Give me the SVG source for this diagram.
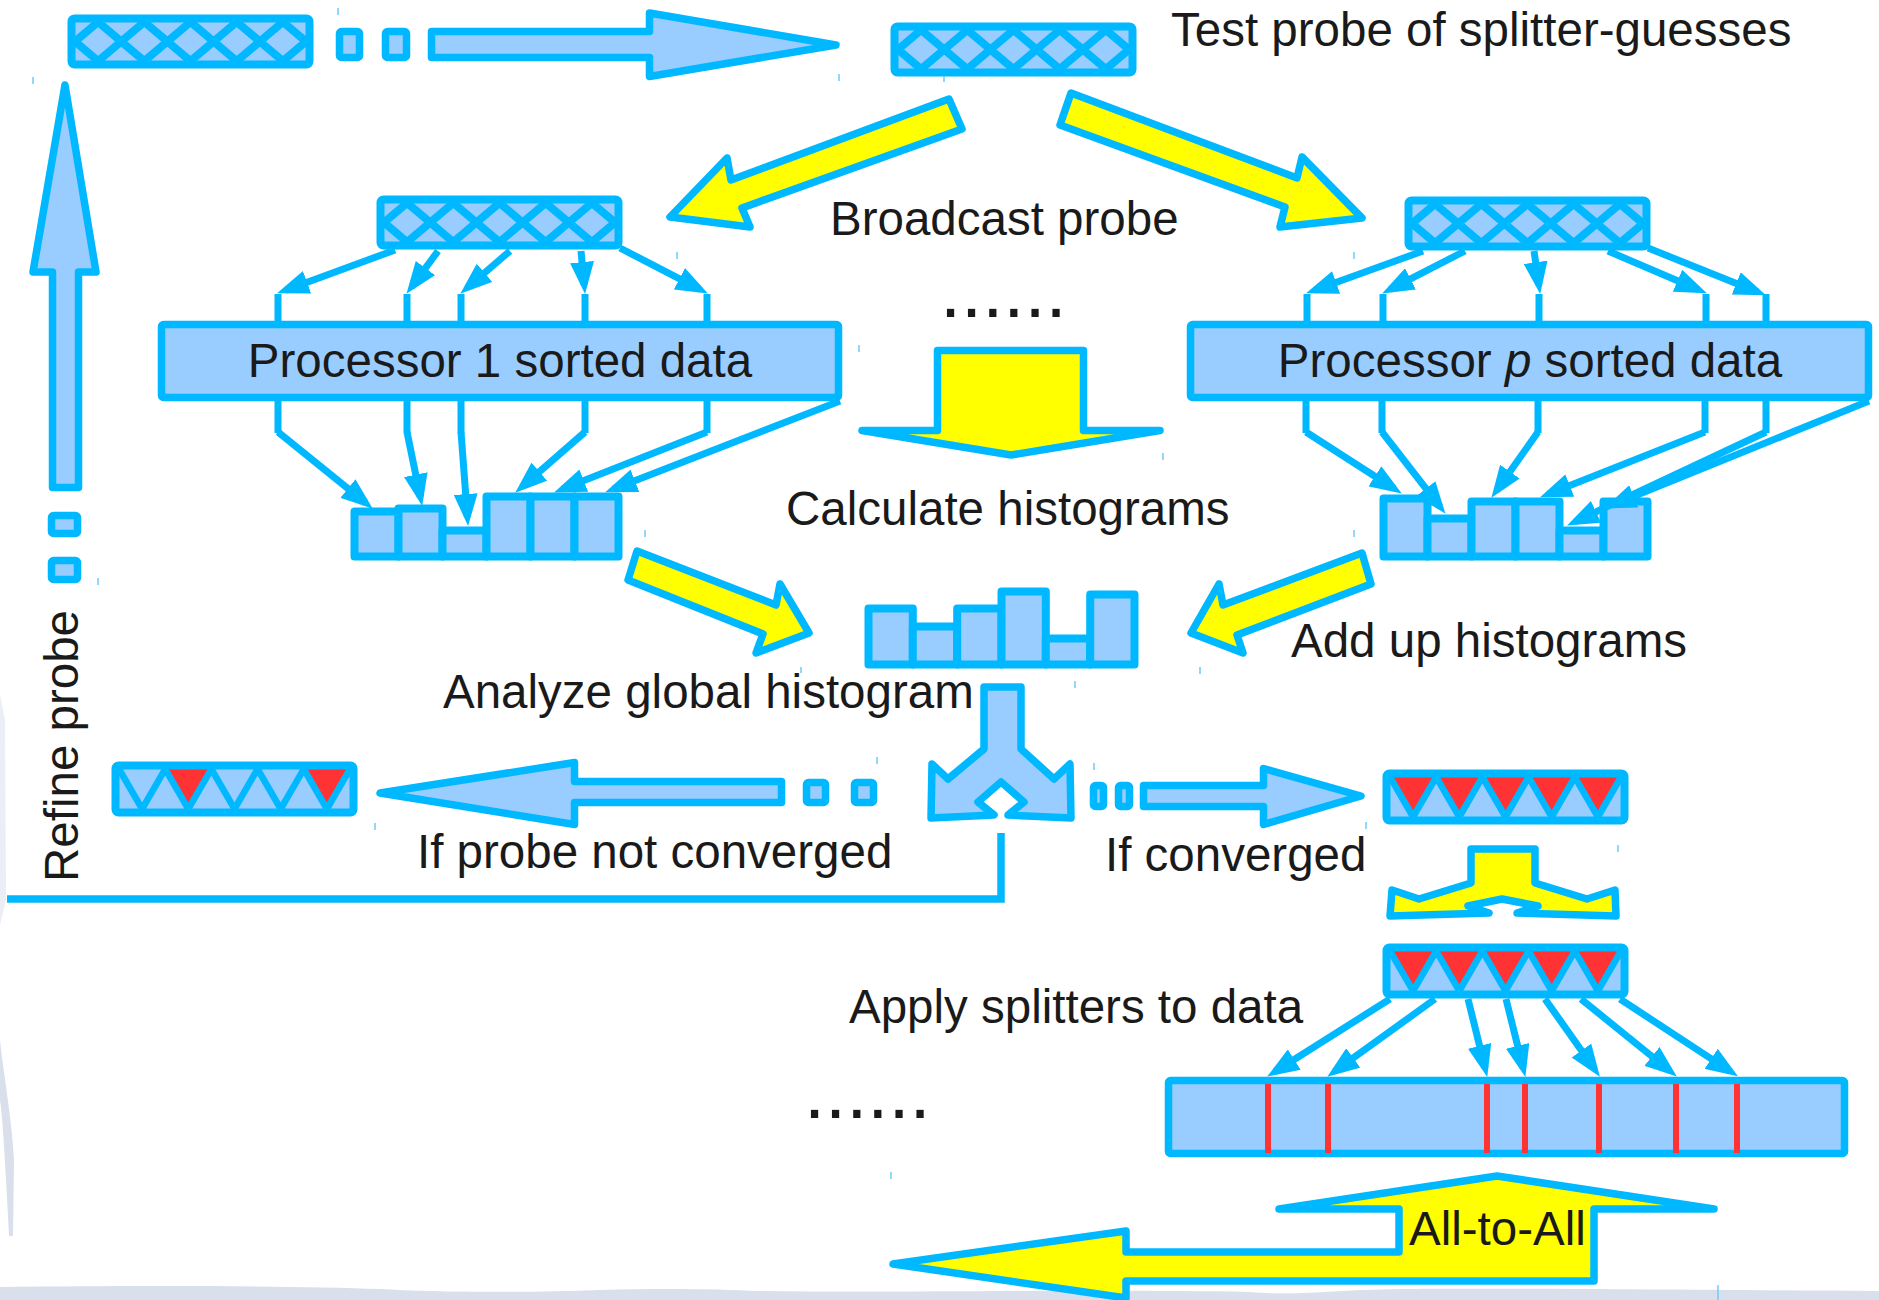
<svg xmlns="http://www.w3.org/2000/svg" width="1879" height="1300" viewBox="0 0 1879 1300">
<style>
  .blk{fill:#99CCFF;stroke:#00B8FF;stroke-width:7.5;stroke-linejoin:round}
  .yel{fill:#FFFF00;stroke:#00B8FF;stroke-width:7.5;stroke-linejoin:round}
  .ln{fill:none;stroke:#00B8FF;stroke-width:7}
  .arr{marker-end:url(#ah)}
  .bar{fill:#99CCFF;stroke:#00B8FF;stroke-width:8;stroke-linejoin:round}
  .txt{font-family:"Liberation Sans",Arial,Helvetica,sans-serif;font-size:47.5px;fill:#1A1A1A}
  .dots{font-family:"Liberation Sans",Arial,Helvetica,sans-serif;font-size:76px;fill:#1A1A1A}
  .split{stroke:#FF3333;stroke-width:6}
  .tick{stroke:#6CCBFF;stroke-width:1.5}
  .haze{fill:#D9E0EC}
</style>
<defs>
  <marker id="ah" markerUnits="userSpaceOnUse" viewBox="0 0 32 24" markerWidth="32" markerHeight="24" refX="23" refY="12" orient="auto">
    <path d="M0,0 L32,12 L0,24 Z" fill="#00B8FF"/>
  </marker>
  <!-- probe of splitter guesses: row of five diamonds -->
  <g id="probeX">
    <rect x="3.5" y="3.5" width="238" height="46" rx="3" fill="#99CCFF"/>
    <path d="M7,26.5 L30.1,7 L53.2,26.5 L30.1,46 Z M53.2,26.5 L76.3,7 L99.4,26.5 L76.3,46 Z M99.4,26.5 L122.5,7 L145.6,26.5 L122.5,46 Z M145.6,26.5 L168.7,7 L191.8,26.5 L168.7,46 Z M191.8,26.5 L214.9,7 L238,26.5 L214.9,46 Z" fill="none" stroke="#00B8FF" stroke-width="8"/>
    <rect x="3.5" y="3.5" width="238" height="46" rx="3" fill="none" stroke="#00B8FF" stroke-width="8"/>
  </g>
  <!-- splitter probe: zigzag of five V cells -->
  <rect id="pvFill" x="3.5" y="3.5" width="238" height="47" rx="3" fill="#99CCFF"/>
  <polygon id="redV" points="7,7 30.1,47 53.2,7" fill="#FF3333"/>
  <g id="pvLines">
    <path d="M7,7 L30.1,47 L53.2,7 L76.3,47 L99.4,7 L122.5,47 L145.6,7 L168.7,47 L191.8,7 L214.9,47 L238,7" fill="none" stroke="#00B8FF" stroke-width="6.5"/>
    <rect x="3.5" y="3.5" width="238" height="47" rx="3" fill="none" stroke="#00B8FF" stroke-width="8"/>
  </g>
  <g id="probeVall">
    <use href="#pvFill"/>
    <use href="#redV"/>
    <use href="#redV" x="46.2"/>
    <use href="#redV" x="92.4"/>
    <use href="#redV" x="138.6"/>
    <use href="#redV" x="184.8"/>
    <use href="#pvLines"/>
  </g>
  <g id="probeVpart">
    <use href="#pvFill"/>
    <use href="#redV" x="46.2"/>
    <use href="#redV" x="184.8"/>
    <use href="#pvLines"/>
  </g>
</defs>

<rect width="1879" height="1300" fill="#FFFFFF"/>

<!-- scanner haze along the edges -->
<g id="haze">
  <path class="haze" d="M0,1287 C150,1285 300,1286 380,1289 C430,1292 520,1293 600,1290 C660,1288 720,1289 760,1291 C900,1293 1100,1289 1250,1292 C1300,1296 1330,1290 1400,1289 C1500,1288 1700,1290 1879,1291 L1879,1300 L0,1300 Z"/>
  <path class="haze" d="M0,1040 C3,1070 12,1120 14,1160 L13,1236 L9,1236 C6,1180 3,1120 0,1100 Z"/>
  <path d="M0,695 L5,720 L6,900 L0,925 Z" fill="#EBEEF4"/>
</g>

<!-- nodes -->
<use id="probe-initial" href="#probeX" x="68" y="15"/>
<use id="probe-test" href="#probeX" x="891" y="23"/>
<use id="probe-proc1" href="#probeX" x="377" y="196"/>
<use id="probe-procp" href="#probeX" x="1405" y="197"/>

<g id="proc1">
  <rect class="blk" x="161.5" y="324.5" width="677" height="73" rx="2"/>
  <text class="txt" x="500" y="377" text-anchor="middle">Processor 1 sorted data</text>
</g>
<g id="procp">
  <rect class="blk" x="1190.5" y="324.5" width="678" height="73" rx="2"/>
  <text class="txt" x="1530" y="377" text-anchor="middle">Processor <tspan font-style="italic">p</tspan> sorted data</text>
</g>

<g id="hist1">
  <rect class="bar" x="354.5" y="511.5" width="44" height="45"/>
  <rect class="bar" x="398.5" y="508.5" width="44" height="48"/>
  <rect class="bar" x="442.5" y="530.5" width="44" height="26"/>
  <rect class="bar" x="486.5" y="496.5" width="44" height="60"/>
  <rect class="bar" x="530.5" y="496.5" width="44" height="60"/>
  <rect class="bar" x="574.5" y="496.5" width="44" height="60"/>
</g>
<g id="histp">
  <rect class="bar" x="1383.5" y="498.5" width="44" height="58"/>
  <rect class="bar" x="1427.5" y="518.5" width="44" height="38"/>
  <rect class="bar" x="1471.5" y="501.5" width="44" height="55"/>
  <rect class="bar" x="1515.5" y="501.5" width="44" height="55"/>
  <rect class="bar" x="1559.5" y="530.5" width="44" height="26"/>
  <rect class="bar" x="1603.5" y="501.5" width="44" height="55"/>
</g>
<g id="hist-global">
  <rect class="bar" x="868.5" y="608.5" width="44.3" height="56"/>
  <rect class="bar" x="912.8" y="626.5" width="44.4" height="38"/>
  <rect class="bar" x="957.2" y="608.5" width="44.3" height="56"/>
  <rect class="bar" x="1001.5" y="591.5" width="44.3" height="73"/>
  <rect class="bar" x="1045.8" y="638.5" width="44.4" height="26"/>
  <rect class="bar" x="1090.2" y="594.5" width="44.3" height="70"/>
</g>

<use id="probe-refined" href="#probeVpart" x="112" y="762"/>
<use id="probe-converged" href="#probeVall" x="1383" y="770"/>
<use id="probe-apply" href="#probeVall" x="1383" y="944"/>

<g id="data">
  <rect class="blk" x="1168.5" y="1080.5" width="676" height="73" rx="2"/>
  <g class="split">
    <line x1="1268" y1="1084" x2="1268" y2="1153"/>
    <line x1="1328" y1="1084" x2="1328" y2="1153"/>
    <line x1="1487" y1="1084" x2="1487" y2="1153"/>
    <line x1="1525" y1="1084" x2="1525" y2="1153"/>
    <line x1="1599" y1="1084" x2="1599" y2="1153"/>
    <line x1="1676" y1="1084" x2="1676" y2="1153"/>
    <line x1="1737" y1="1084" x2="1737" y2="1153"/>
  </g>
</g>

<!-- connectors -->
<g id="connectors">
  <!-- probe travels to the test position -->
  <rect class="blk" x="339.5" y="31.5" width="20" height="26" rx="2"/>
  <rect class="blk" x="385.5" y="31.5" width="21" height="26" rx="2"/>
  <polygon class="blk" points="431.5,31.5 649.5,31.5 649.5,13 836,45 649.5,76.5 649.5,57.5 431.5,57.5"/>

  <!-- broadcast -->
  <polygon class="yel" points="949,99 731,180 727,158 670,217 750,227 742,208 962,129"/>
  <polygon class="yel" points="1071,93 1297,178 1302,157 1362,218 1280,227 1285,207 1060,125"/>

  <!-- probe to processor 1 -->
  <g class="ln">
    <line class="arr" x1="395" y1="250" x2="285.5" y2="290.2"/>
    <line class="arr" x1="438" y1="251" x2="411.8" y2="286.6"/>
    <line class="arr" x1="510" y1="251" x2="467.1" y2="287.8"/>
    <line class="arr" x1="581" y1="251" x2="584.2" y2="285"/>
    <line class="arr" x1="620" y1="248" x2="699.9" y2="289.3"/>
    <path d="M278,294 V322 M407,294 V322 M461,294 V322 M585,294 V322 M707,294 V322"/>
    <path d="M278,400 V433 M407,400 V433 M461,400 V433 M585,400 V433 M707,400 V433"/>
    <line class="arr" x1="278" y1="432" x2="365.8" y2="503"/>
    <line class="arr" x1="407" y1="432" x2="420.4" y2="497.2"/>
    <line class="arr" x1="461" y1="432" x2="467.4" y2="517"/>
    <line class="arr" x1="585" y1="432" x2="522" y2="486.8"/>
    <line class="arr" x1="707" y1="432" x2="562.4" y2="489.1"/>
    <line class="arr" x1="840" y1="401" x2="613.5" y2="489.1"/>
  </g>

  <!-- probe to processor p -->
  <g class="ln">
    <line class="arr" x1="1423" y1="251" x2="1314.5" y2="290.3"/>
    <line class="arr" x1="1465" y1="251" x2="1390.1" y2="289.4"/>
    <line class="arr" x1="1534" y1="251" x2="1538.9" y2="285.1"/>
    <line class="arr" x1="1608" y1="251" x2="1698.6" y2="289.8"/>
    <line class="arr" x1="1648" y1="248" x2="1757.6" y2="292"/>
    <path d="M1307,294 V322 M1383,294 V322 M1539,294 V322 M1706,294 V322 M1766,294 V322"/>
    <path d="M1306,400 V433 M1382,400 V433 M1538,400 V433 M1705,400 V433 M1766,400 V433"/>
    <line class="arr" x1="1306" y1="432" x2="1394.2" y2="488.7"/>
    <line class="arr" x1="1382" y1="432" x2="1440" y2="506.7"/>
    <line class="arr" x1="1538" y1="432" x2="1496.6" y2="490.4"/>
    <line class="arr" x1="1705" y1="432" x2="1548.4" y2="494"/>
    <line class="arr" x1="1766" y1="432" x2="1575.2" y2="521.6"/>
    <line class="arr" x1="1869" y1="401" x2="1612.4" y2="505"/>
  </g>

  <!-- calculate histograms -->
  <polygon class="yel" points="937.5,350.5 1083.5,350.5 1083.5,430.5 1160,430.5 1011,455 862,430.5 937.5,430.5"/>

  <!-- add up histograms -->
  <polygon class="yel" points="637,551 776,605 780,584 809,633 756,653 763,634 628,580"/>
  <polygon class="yel" points="1362,553 1223,605 1219,584 1191,633 1243,653 1237,635 1371,584"/>

  <!-- decision fork -->
  <polygon class="blk" points="984,687 1021,687 1021,749 1054,779 1070,764 1071,818 1008,815 1024,802 1001,782 978,802 994,815 931,818 932,764 948,779 984,749"/>

  <!-- not converged: back to refine -->
  <rect class="blk" x="854.5" y="782.5" width="19" height="20" rx="2"/>
  <rect class="blk" x="806.5" y="782.5" width="19" height="20" rx="2"/>
  <polygon class="blk" points="380,793 574.5,762.5 574.5,781.5 781.5,781.5 781.5,802.5 574.5,802.5 574.5,824.5"/>
  <path d="M7,899 H1001 V833" fill="none" stroke="#00B8FF" stroke-width="7.5"/>
  <rect class="blk" x="51.5" y="560.5" width="26" height="19" rx="2"/>
  <rect class="blk" x="51.5" y="515.5" width="26" height="18" rx="2"/>
  <polygon class="blk" points="65,85 96,272 78.5,272 78.5,487.5 52.5,487.5 52.5,272 33,272"/>

  <!-- converged -->
  <rect class="blk" x="1093.5" y="785.5" width="10" height="21" rx="2"/>
  <rect class="blk" x="1118.5" y="785.5" width="11" height="21" rx="2"/>
  <polygon class="blk" points="1143.5,785.5 1263.5,785.5 1263.5,768.5 1361,796 1263.5,824.5 1263.5,806.5 1143.5,806.5"/>
  <polygon class="yel" points="1471,849 1535,849 1535,883 1587,899 1615,890 1616,916 1517,913 1538,906 1502,899 1468,906 1489,913 1390,916 1392,890 1419,899 1471,883"/>

  <!-- apply splitters -->
  <g class="ln" stroke-width="7.5">
    <line class="arr" x1="1390" y1="999" x2="1274.8" y2="1071.8"/>
    <line class="arr" x1="1435" y1="999" x2="1334.6" y2="1071.4"/>
    <line class="arr" x1="1468" y1="999" x2="1485.1" y2="1068.2"/>
    <line class="arr" x1="1506" y1="999" x2="1523.2" y2="1068.2"/>
    <line class="arr" x1="1545" y1="999" x2="1594.7" y2="1069.3"/>
    <line class="arr" x1="1581" y1="999" x2="1669.8" y2="1070.9"/>
    <line class="arr" x1="1620" y1="999" x2="1730.4" y2="1071.4"/>
  </g>

  <!-- all-to-all exchange -->
  <polygon class="yel" points="1497,1176 1714,1209 1594,1209 1594,1281 1126,1281 1126,1298 893,1264 1126,1231 1126,1252 1399,1252 1399,1209 1279,1209"/>
</g>

<!-- labels -->
<g id="labels">
  <text class="txt" x="1171" y="46">Test probe of splitter-guesses</text>
  <text class="txt" x="830" y="235">Broadcast probe</text>
  <text class="dots" x="940" y="317">......</text>
  <text class="txt" x="786" y="525">Calculate histograms</text>
  <text class="txt" x="1291" y="657">Add up histograms</text>
  <text class="txt" x="443" y="708">Analyze global histogram</text>
  <text class="txt" x="417" y="868">If probe not converged</text>
  <text class="txt" x="1105" y="871">If converged</text>
  <text class="txt" x="849" y="1023">Apply splitters to data</text>
  <text class="dots" x="804" y="1118">......</text>
  <text class="txt" x="1409" y="1245">All-to-All</text>
  <text class="txt" transform="translate(78,882) rotate(-90)">Refine probe</text>
</g>

<!-- stray selection handles -->
<g id="handles" class="tick">
  <line x1="338" y1="8" x2="338" y2="15"/>
  <line x1="33" y1="77" x2="33" y2="84"/>
  <line x1="839" y1="74" x2="839" y2="81"/>
  <line x1="944" y1="76" x2="944" y2="82"/>
  <line x1="677" y1="252" x2="677" y2="259"/>
  <line x1="1354" y1="252" x2="1354" y2="259"/>
  <line x1="859" y1="345" x2="859" y2="352"/>
  <line x1="645" y1="530" x2="645" y2="537"/>
  <line x1="1354" y1="530" x2="1354" y2="537"/>
  <line x1="1163" y1="453" x2="1163" y2="460"/>
  <line x1="801" y1="667" x2="801" y2="673"/>
  <line x1="1075" y1="681" x2="1075" y2="688"/>
  <line x1="1200" y1="667" x2="1200" y2="674"/>
  <line x1="877" y1="757" x2="877" y2="764"/>
  <line x1="375" y1="823" x2="375" y2="830"/>
  <line x1="1094" y1="763" x2="1094" y2="770"/>
  <line x1="1366" y1="822" x2="1366" y2="829"/>
  <line x1="1618" y1="845" x2="1618" y2="852"/>
  <line x1="891" y1="1172" x2="891" y2="1179"/>
  <line x1="1718" y1="1285" x2="1718" y2="1300"/>
  <line x1="98" y1="578" x2="98" y2="585"/>
</g>
</svg>
